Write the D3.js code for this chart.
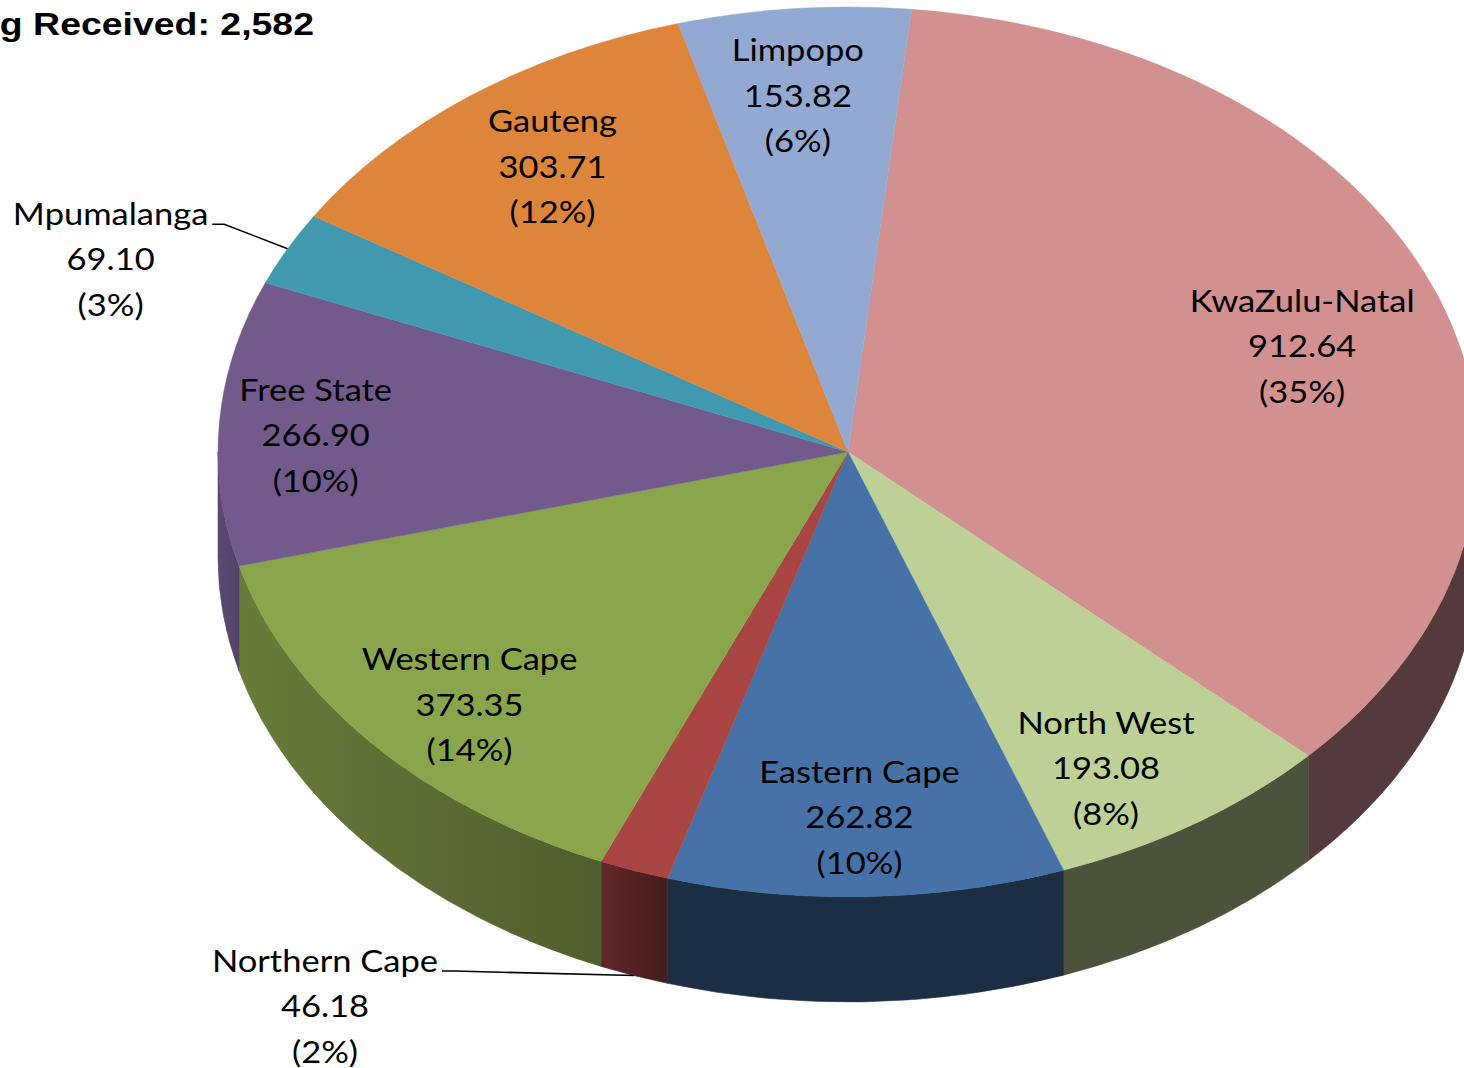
<!DOCTYPE html>
<html>
<head>
<meta charset="UTF-8">
<title>Funding Received</title>
<script src="https://d3js.org/d3.v7.min.js"></script>
<style>
  body { margin: 0; background: #fff; }
</style>
</head>
<body>
<div id="chart"></div>
<script>
// data
const provinces = ["KwaZulu-Natal", "North West", "Eastern Cape", "Northern Cape", "Western Cape",
                   "Free State", "Mpumalanga", "Gauteng", "Limpopo"];
const amounts = [912.64, 193.08, 262.82, 46.18, 373.35, 266.90, 69.10, 303.71, 153.82];
const percentLabels = ["35%", "8%", "10%", "2%", "14%", "10%", "3%", "12%", "6%"];
const sliceColors = ["#D39090", "#BDD096", "#4672A8", "#A94644", "#8AA64D",
                     "#735A8D", "#4199AF", "#DE853C", "#93A9D1"];
const titleText = "Funding Received: 2,582";

const W = 1464, H = 1068;
const cx = 848, cy = 452, rx = 630, ry = 445, depth = 105;
const startDeg = 5.8;

// label placement tweaks (like Excel's own label layout)
const labelNudge = {
  "KwaZulu-Natal": [-6, 20], "North West": [-13, 20], "Eastern Cape": [-3, 10],
  "Western Cape": [-7, 20], "Free State": [-42, 7], "Gauteng": [-1, 0], "Limpopo": [-8, -1],
  "Mpumalanga": [-177, 11], "Northern Cape": [-309, 31]
};
const outside = ["Mpumalanga", "Northern Cape"];

const svg = d3.select('#chart').append('svg').attr('width', W).attr('height', H)
svg.append('rect').attr('width', W).attr('height', H).attr('fill', '#fff')

const rows = provinces.map((p, i) => ({name: p, value: amounts[i], pct: percentLabels[i], color: sliceColors[i]}))
const pie = d3.pie().value(d => d.value).sort(null)
  .startAngle(startDeg * Math.PI / 180).endAngle(2 * Math.PI + startDeg * Math.PI / 180)
const arcs = pie(rows)

const R = 100
const arcPath = d3.arc().innerRadius(0).outerRadius(R)

const px = a => cx + rx * Math.sin(a)
const py = a => cy - ry * Math.cos(a)

// shading of the side wall depending on where it faces
const shade = a => {
  const deg = a * 180 / Math.PI % 360
  return deg <= 198 ? 0.4 : 0.55 + 0.25 * Math.min(1, (deg - 198) / 72)
}
const darken = (c, f) => { const r = d3.rgb(c); return d3.rgb(r.r * f, r.g * f, r.b * f).formatHex() }

const defs = svg.append('defs')
const sides = svg.append('g')

arcs.forEach((d, i) => {
  // front half of the pie is between 90deg and 270deg
  const lo = Math.PI / 2, hi = 3 * Math.PI / 2
  let a0 = d.startAngle, a1 = d.endAngle
  if (a0 >= 2 * Math.PI) { a0 -= 2 * Math.PI; a1 -= 2 * Math.PI }
  const s = Math.max(a0, lo), e = Math.min(a1, hi)
  if (e <= s) return
  const gid = 'side' + i
  const g = defs.append('linearGradient').attr('id', gid)
    .attr('gradientUnits', 'userSpaceOnUse')
    .attr('x1', px(e)).attr('x2', px(s)).attr('y1', 0).attr('y2', 0)
  g.append('stop').attr('offset', 0).attr('stop-color', darken(d.data.color, shade(e)))
  g.append('stop').attr('offset', 1).attr('stop-color', darken(d.data.color, shade(s)))
  const p = `M${px(s)},${py(s)} A${rx},${ry} 0 0 1 ${px(e)},${py(e)} L${px(e)},${py(e) + depth} ` +
            `A${rx},${ry} 0 0 0 ${px(s)},${py(s) + depth} Z`
  sides.append('path').attr('d', p).attr('fill', `url(#${gid})`)
    .attr('stroke', `url(#${gid})`).attr('stroke-width', 0.6)
})

// top faces
svg.append('g').attr('transform', `translate(${cx},${cy}) scale(${rx / R},${ry / R})`)
  .selectAll('path').data(arcs).enter().append('path')
  .attr('d', arcPath).attr('fill', d => d.data.color)
  .attr('stroke', d => d.data.color).attr('stroke-width', 0.08)

// labels
const fontSize = 30, lineGap = 45.5, sx = 1.15
const labels = svg.append('g').attr('font-family', 'Lato, "Open Sans", sans-serif')
  .attr('font-size', fontSize).attr('fill', '#000')

arcs.forEach(d => {
  const mid = (d.startAngle + d.endAngle) / 2
  const nd = labelNudge[d.data.name] || [0, 0]
  const isOut = outside.includes(d.data.name)
  let ax, ay
  if (isOut) {
    const a = mid % (2 * Math.PI)
    ax = px(a); ay = py(a) + (a > Math.PI / 2 && a < 3 * Math.PI / 2 ? depth : 0)
  } else {
    ax = cx + rx * 0.78 * Math.sin(mid); ay = cy - ry * 0.80 * Math.cos(mid)
  }
  const lx = ax + nd[0], ly = ay + nd[1]
  const lines = [d.data.name, d3.format('.2f')(d.data.value), '(' + d.data.pct + ')']
  const t = labels.append('g').attr('transform', `translate(${lx},${ly}) scale(${sx},1)`)
  const texts = t.selectAll('text').data(lines).enter().append('text')
    .attr('x', 0).attr('y', (l, k) => (k - 1) * lineGap + 10.5)
    .attr('text-anchor', 'middle').text(l => l)
  if (isOut) {
    const w = texts.nodes()[0].getComputedTextLength() * sx
    const x0 = lx + w / 2 + 4, y0 = ly - lineGap + 10
    svg.append('path')
      .attr('d', `M${x0},${y0} L${x0 + 12},${y0} L${ax},${ay}`)
      .attr('fill', 'none').attr('stroke', '#000').attr('stroke-width', 1.6)
  }
})

// title, cut off at the left edge as in the picture
svg.append('text').attr('transform', 'translate(314,35) scale(1.17,1)')
  .attr('text-anchor', 'end').attr('font-family', '"Liberation Sans", Arial, sans-serif')
  .attr('font-weight', 'bold').attr('font-size', 32).attr('fill', '#000')
  .text(titleText)
</script>
</body>
</html>
